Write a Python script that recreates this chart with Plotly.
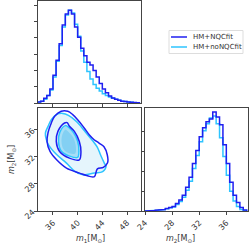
import plotly.graph_objects as go

# ---------------- data ----------------
# m1 histogram (bin width 0.5, first bin starts at 33.5)
m1_start, m1_width = 33.5, 0.5
m1_nqc = [0.01, 0.02, 0.05, 0.08, 0.15, 0.30, 0.46, 0.64, 0.84, 0.96, 1.00, 0.96, 0.82,
          0.71, 0.59, 0.51, 0.44, 0.41, 0.35, 0.28, 0.21, 0.15, 0.11, 0.075, 0.055,
          0.04, 0.03, 0.02, 0.015, 0.01, 0.007, 0.005, 0.003]
m1_nonqc = [0.01, 0.02, 0.04, 0.08, 0.14, 0.28, 0.45, 0.62, 0.82, 0.95, 1.00, 0.97, 0.85,
            0.72, 0.56, 0.44, 0.34, 0.26, 0.20, 0.16, 0.13, 0.10, 0.08, 0.065, 0.05,
            0.04, 0.03, 0.02, 0.015, 0.01, 0.007, 0.004, 0.002]

# m2 histogram (bin width 0.5, first bin starts at 24.0)
m2_start, m2_width = 24.0, 0.5
m2_nqc = [0.0, 0.003, 0.005, 0.008, 0.01, 0.015, 0.025, 0.035, 0.045, 0.075, 0.11, 0.16,
          0.24, 0.34, 0.48, 0.61, 0.75, 0.84, 0.90, 0.93, 1.00, 0.95, 0.87, 0.67, 0.48,
          0.29, 0.16, 0.085, 0.035, 0.01]
m2_nonqc = [0.0, 0.003, 0.004, 0.007, 0.01, 0.014, 0.022, 0.032, 0.04, 0.065, 0.095, 0.14,
            0.21, 0.30, 0.43, 0.56, 0.70, 0.81, 0.88, 0.94, 0.96, 0.88, 0.74, 0.55, 0.36,
            0.20, 0.10, 0.045, 0.015, 0.005]

# 2D credible contours (m1, m2)
c90_nqc_m1 = [35.73, 36.27, 37.33, 38.4, 39.2, 40.0, 41.07, 41.87, 42.67, 43.47, 44.27, 44.8,
              44.85, 44.16, 43.2, 42.72, 41.92, 40.32, 38.19, 36.59, 35.52, 35.04, 35.2, 35.73]
c90_nqc_m2 = [36.99, 37.97, 38.71, 38.71, 38.22, 37.48, 36.25, 35.26, 34.52, 34.03, 33.48, 32.30,
              31.11, 30.44, 30.22, 29.08, 29.11, 29.59, 30.33, 31.56, 32.79, 34.22, 35.56, 36.99]
c90_nonqc_m1 = [34.77, 35.2, 35.73, 36.53, 37.6, 38.5, 39.79, 40.6, 41.39, 42.4, 43.2, 43.7,
                44.32, 44.6, 44.05, 42.7, 40.85, 39.5, 38.19, 36.5, 35.25, 34.9, 34.77]
c90_nonqc_m2 = [35.51, 36.49, 37.48, 38.22, 38.4, 38.1, 37.23, 36.4, 35.51, 34.4, 33.4, 32.3,
                31.07, 30.56, 29.82, 29.6, 29.33, 29.9, 31.07, 32.4, 33.8, 34.6, 35.51]
c50_nqc_m1 = [38.3, 37.87, 36.8, 36.53, 37.07, 38.67, 40.27, 40.53, 40.27, 39.47, 38.67, 38.3]
c50_nqc_m2 = [37.05, 36.99, 35.75, 34.27, 32.79, 31.8, 31.56, 32.79, 34.27, 35.75, 36.5, 37.05]
c50_nonqc_m1 = [38.0, 37.1, 36.9, 37.3, 38.7, 40.0, 40.2, 40.0, 39.3, 38.6, 38.0]
c50_nonqc_m2 = [36.6, 35.6, 34.2, 32.9, 32.1, 31.9, 32.9, 34.3, 35.6, 36.3, 36.6]
core_m1 = [38.0, 37.5, 37.4, 37.8, 38.8, 39.6, 39.7, 39.3, 38.6, 38.0]
core_m2 = [36.0, 35.2, 34.0, 33.0, 32.5, 32.5, 33.5, 34.8, 35.6, 36.0]

m1_ticks = [36, 40, 44, 48]
m2_ticks = [24, 28, 32, 36]
labels = ["HM+NQCfit", "HM+noNQCfit"]

C_DARK = "#1f1ff0"
C_LIGHT = "#2ec4ff"
FONT = "DejaVu Sans"


def step(start, width, vals):
    xs = [start]
    ys = [0]
    for i, v in enumerate(vals):
        xs += [start + i * width, start + (i + 1) * width]
        ys += [v, v]
    xs.append(start + len(vals) * width)
    ys.append(0)
    return xs, ys


fig = go.Figure()

# top-left m1 histograms
for vals, col in [(m1_nqc, C_DARK), (m1_nonqc, C_LIGHT)][::-1]:
    xs, ys = step(m1_start, m1_width, vals)
    fig.add_trace(go.Scatter(x=xs, y=ys, mode="lines", line=dict(color=col, width=1.5),
                             xaxis="x", yaxis="y", showlegend=False, hoverinfo="skip"))

# bottom-right m2 histograms
for vals, col in [(m2_nqc, C_DARK), (m2_nonqc, C_LIGHT)][::-1]:
    xs, ys = step(m2_start, m2_width, vals)
    fig.add_trace(go.Scatter(x=xs, y=ys, mode="lines", line=dict(color=col, width=1.5),
                             xaxis="x3", yaxis="y3", showlegend=False, hoverinfo="skip"))

# 2D shading
fig.add_trace(go.Scatter(x=c90_nonqc_m1, y=c90_nonqc_m2, mode="lines", fill="toself",
                         fillcolor="rgba(170,222,246,0.30)", line=dict(width=0, shape="spline"),
                         xaxis="x2", yaxis="y2", showlegend=False, hoverinfo="skip"))
fig.add_trace(go.Scatter(x=c50_nonqc_m1, y=c50_nonqc_m2, mode="lines", fill="toself",
                         fillcolor="rgba(90,195,240,0.45)", line=dict(width=0, shape="spline"),
                         xaxis="x2", yaxis="y2", showlegend=False, hoverinfo="skip"))
fig.add_trace(go.Scatter(x=core_m1, y=core_m2, mode="lines", fill="toself",
                         fillcolor="rgba(50,175,235,0.30)", line=dict(width=0, shape="spline"),
                         xaxis="x2", yaxis="y2", showlegend=False, hoverinfo="skip"))

# 2D contours
for xs, ys, col in [(c90_nonqc_m1, c90_nonqc_m2, C_LIGHT), (c50_nonqc_m1, c50_nonqc_m2, C_LIGHT),
                    (c90_nqc_m1, c90_nqc_m2, C_DARK), (c50_nqc_m1, c50_nqc_m2, C_DARK)]:
    fig.add_trace(go.Scatter(x=xs, y=ys, mode="lines",
                             line=dict(color=col, width=1.5, shape="spline", smoothing=1.0),
                             xaxis="x2", yaxis="y2", showlegend=False, hoverinfo="skip"))

W = 249.0
def px(v):
    return v / W
def py(v):
    return 1 - v / W

XL = [px(38), px(141)]
XR = [px(145), px(248)]
YT = [py(103), py(1)]
YB = [py(211), py(108)]
M1_RANGE = [33.57, 50.27]
M2_RANGE = [24.0, 39.2]

axis_common = dict(showgrid=False, zeroline=False, showline=True, mirror=True,
                   linecolor="#444", linewidth=1, ticks="outside", ticklen=3,
                   tickcolor="#444", automargin=False,
                   tickfont=dict(size=8, color="#333", family=FONT))

fig.update_layout(
    width=249, height=249, margin=dict(l=0, r=0, t=0, b=0, pad=0), autosize=False,
    paper_bgcolor="white", plot_bgcolor="white", showlegend=False,
    font=dict(family=FONT, size=8, color="#333"),
    xaxis=dict(domain=XL, range=M1_RANGE, tickvals=m1_ticks, showticklabels=False,
               anchor="y", **axis_common),
    yaxis=dict(domain=YT, range=[0, 1.1], tickvals=[0, 0.176, 0.352, 0.528, 0.704, 0.88, 1.056],
               showticklabels=False, anchor="x", **axis_common),
    xaxis2=dict(domain=XL, range=M1_RANGE, tickvals=m1_ticks, tickangle=-45,
                anchor="y2", **axis_common),
    yaxis2=dict(domain=YB, range=M2_RANGE, tickvals=m2_ticks, tickangle=-45,
                anchor="x2", **axis_common),
    xaxis3=dict(domain=XR, range=M2_RANGE, tickvals=m2_ticks, tickangle=-45,
                anchor="y3", **axis_common),
    yaxis3=dict(domain=YB, range=[0, 1.04], tickvals=[0, 0.2, 0.4, 0.6, 0.8],
                showticklabels=False, anchor="x3", **axis_common),
)

# axis titles
fig.add_annotation(text="<i>m</i><sub>1</sub>[M<sub>⊙</sub>]", x=px(90), y=py(246),
                   xref="paper", yref="paper", showarrow=False,
                   font=dict(size=8, family=FONT, color="#333"))
fig.add_annotation(text="<i>m</i><sub>2</sub>[M<sub>⊙</sub>]", x=px(197), y=py(246),
                   xref="paper", yref="paper", showarrow=False,
                   font=dict(size=8, family=FONT, color="#333"))
fig.add_annotation(text="<i>m</i><sub>2</sub>[M<sub>⊙</sub>]", x=px(5), y=py(160),
                   xref="paper", yref="paper", showarrow=False, textangle=-90,
                   font=dict(size=8, family=FONT, color="#333"))

# legend (manual)
fig.add_shape(type="rect", xref="paper", yref="paper", x0=px(169), x1=px(243),
              y0=py(53.5), y1=py(30.5), line=dict(color="#ddd", width=1), fillcolor="white")
for i, (lab, col) in enumerate(zip(labels, [C_DARK, C_LIGHT])):
    yy = 37 + i * 10
    fig.add_shape(type="line", xref="paper", yref="paper", x0=px(171), x1=px(187),
                  y0=py(yy), y1=py(yy), line=dict(color=col, width=1.5))
    fig.add_annotation(text=lab, x=px(191), y=py(yy), xref="paper", yref="paper",
                       showarrow=False, xanchor="left", yanchor="middle",
                       font=dict(size=7, family=FONT, color="#333"))

fig.write_html("out.html", config={"displayModeBar": False},
               post_script="document.body.style.margin='0px';document.body.style.overflow='hidden';")
